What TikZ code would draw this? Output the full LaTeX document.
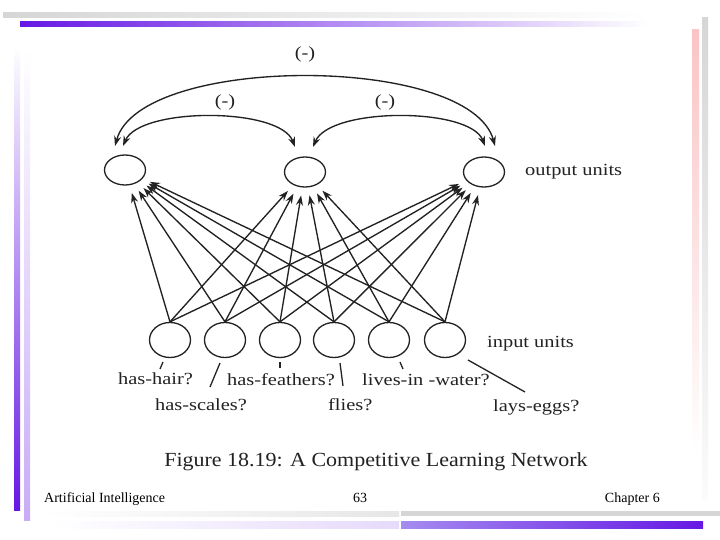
\documentclass[tikz,border=0pt]{standalone}
\usepackage{fontspec}
\setmainfont{Liberation Serif}
\usepackage{graphicx}
\usetikzlibrary{shapes.geometric,arrows.meta}
\definecolor{ink}{HTML}{222222}
\definecolor{vio}{RGB}{102,24,228}
\definecolor{lav}{RGB}{200,172,246}
\definecolor{lavb}{RGB}{165,140,240}
\definecolor{pinkb}{RGB}{250,196,196}
\definecolor{grayb}{RGB}{214,214,214}
\newcommand{\sx}[1]{\scalebox{1.2}[1]{#1}}
\tikzset{
  unit/.style={ellipse, draw=ink, line width=1.3pt, inner sep=0pt, minimum width=41pt},
  arr/.style={draw=ink, line width=1.35pt, -{Stealth[length=10pt,width=7pt]}, shorten >=8pt},
  arc2/.style={draw=ink, line width=1.35pt, {Stealth[length=10pt,width=7pt]}-{Stealth[length=10pt,width=7pt]}},
  lbl/.style={text=ink, inner sep=0pt, font=\fontsize{17}{20}\selectfont},
  tick/.style={draw=ink, line width=1.3pt},
  foot/.style={text=black, inner sep=0pt, font=\fontsize{14}{16}\selectfont}
}
\begin{document}
\begin{tikzpicture}[x=1pt,y=-1pt]
\useasboundingbox (0,0) rectangle (720,540);
\fill[white] (0,0) rectangle (720,540);
% decorative bars
\shade[left color=grayb, right color=white] (3,13) rectangle (650,18);
\shade[left color=vio, right color=white] (20,22) rectangle (650,27);
\shade[top color=white, bottom color=vio] (14,45) rectangle (20,510);
\shade[top color=white, bottom color=lav] (24,50) rectangle (30,520);
\shade[top color=pinkb, bottom color=white] (692,30) rectangle (699,455);
\shade[top color=grayb, bottom color=white!90!grayb] (702,18) rectangle (708,500);
\shade[left color=white, right color=white!40!grayb] (40,511) rectangle (399,516);
\fill[grayb] (401,511) rectangle (720,516);
\shade[left color=white, right color=white!55!lav] (50,521) rectangle (399,528);
\shade[left color=lavb, right color=vio] (401,521) rectangle (703,528);
% units
\foreach \n/\x/\y in {o1/125/170, o2/305/172, o3/484/172}
  \node[unit, minimum height=30pt] (\n) at (\x,\y) {};
\foreach \n/\x in {i1/170, i2/225, i3/280, i4/334, i5/389, i6/445}
  \node[unit, minimum height=35pt] (\n) at (\x,340) {};
% connections
\foreach \i in {i1,i2,i3,i4,i5,i6}
  \foreach \o in {o1,o2,o3}
    \draw[arr] (\i.north) -- (\o);
% inhibitory arcs
\coordinate (a1) at (115,146);
\coordinate (a2) at (495,146);
\coordinate (b1) at (123,146);
\coordinate (b2) at (295,147);
\coordinate (c1) at (313,147);
\coordinate (c2) at (485,146);
\draw[arc2] (a1) .. controls (140,54) and (470,54) .. (a2);
\draw[arc2] (b1) .. controls (140,107) and (280,107) .. (b2);
\draw[arc2] (c1) .. controls (330,107) and (470,107) .. (c2);
\node[lbl, anchor=base] (m0) at (305,59) {\sx{(-)}};
\node[lbl, anchor=base] (m1) at (225,107) {\sx{(-)}};
\node[lbl, anchor=base] (m2) at (385,107) {\sx{(-)}};
% layer labels
\node[lbl, anchor=base west] (ou) at (525,176) {\sx{output units}};
\node[lbl, anchor=base west] (iu) at (487,347) {\sx{input units}};
% input labels
\node[lbl, anchor=base west] (l1) at (118,384) {\sx{has-hair?}};
\node[lbl, anchor=base west] (l2) at (155,410) {\sx{has-scales?}};
\node[lbl, anchor=base west] (l3) at (227,385) {\sx{has-feathers?}};
\node[lbl, anchor=base west] (l4) at (328,410) {\sx{flies?}};
\node[lbl, anchor=base west] (l5) at (362,385) {\sx{lives-in -water?}};
\node[lbl, anchor=base west] (l6) at (493,411) {\sx{lays-eggs?}};
\draw[tick] (163,362) -- (160,369);
\draw[tick] (220,363) -- (210,387);
\draw[tick] (280,362) -- (280,368);
\draw[tick] (340,363) -- (343,386);
\draw[tick] (400,362) -- (403,369);
\draw[tick] (468,360) -- (525,392);
% caption
\node[text=ink, inner sep=0pt, anchor=base, font=\fontsize{20}{24}\selectfont] (cap) at (376,466) {\scalebox{1.1}[1]{Figure 18.19: A Competitive Learning Network}};
% footer
\node[foot, anchor=base west] (f1) at (44,502) {Artificial Intelligence};
\node[foot, anchor=base] (f2) at (360,502) {63};
\node[foot, anchor=base east] (f3) at (660,502) {Chapter 6};
\end{tikzpicture}
\end{document}
